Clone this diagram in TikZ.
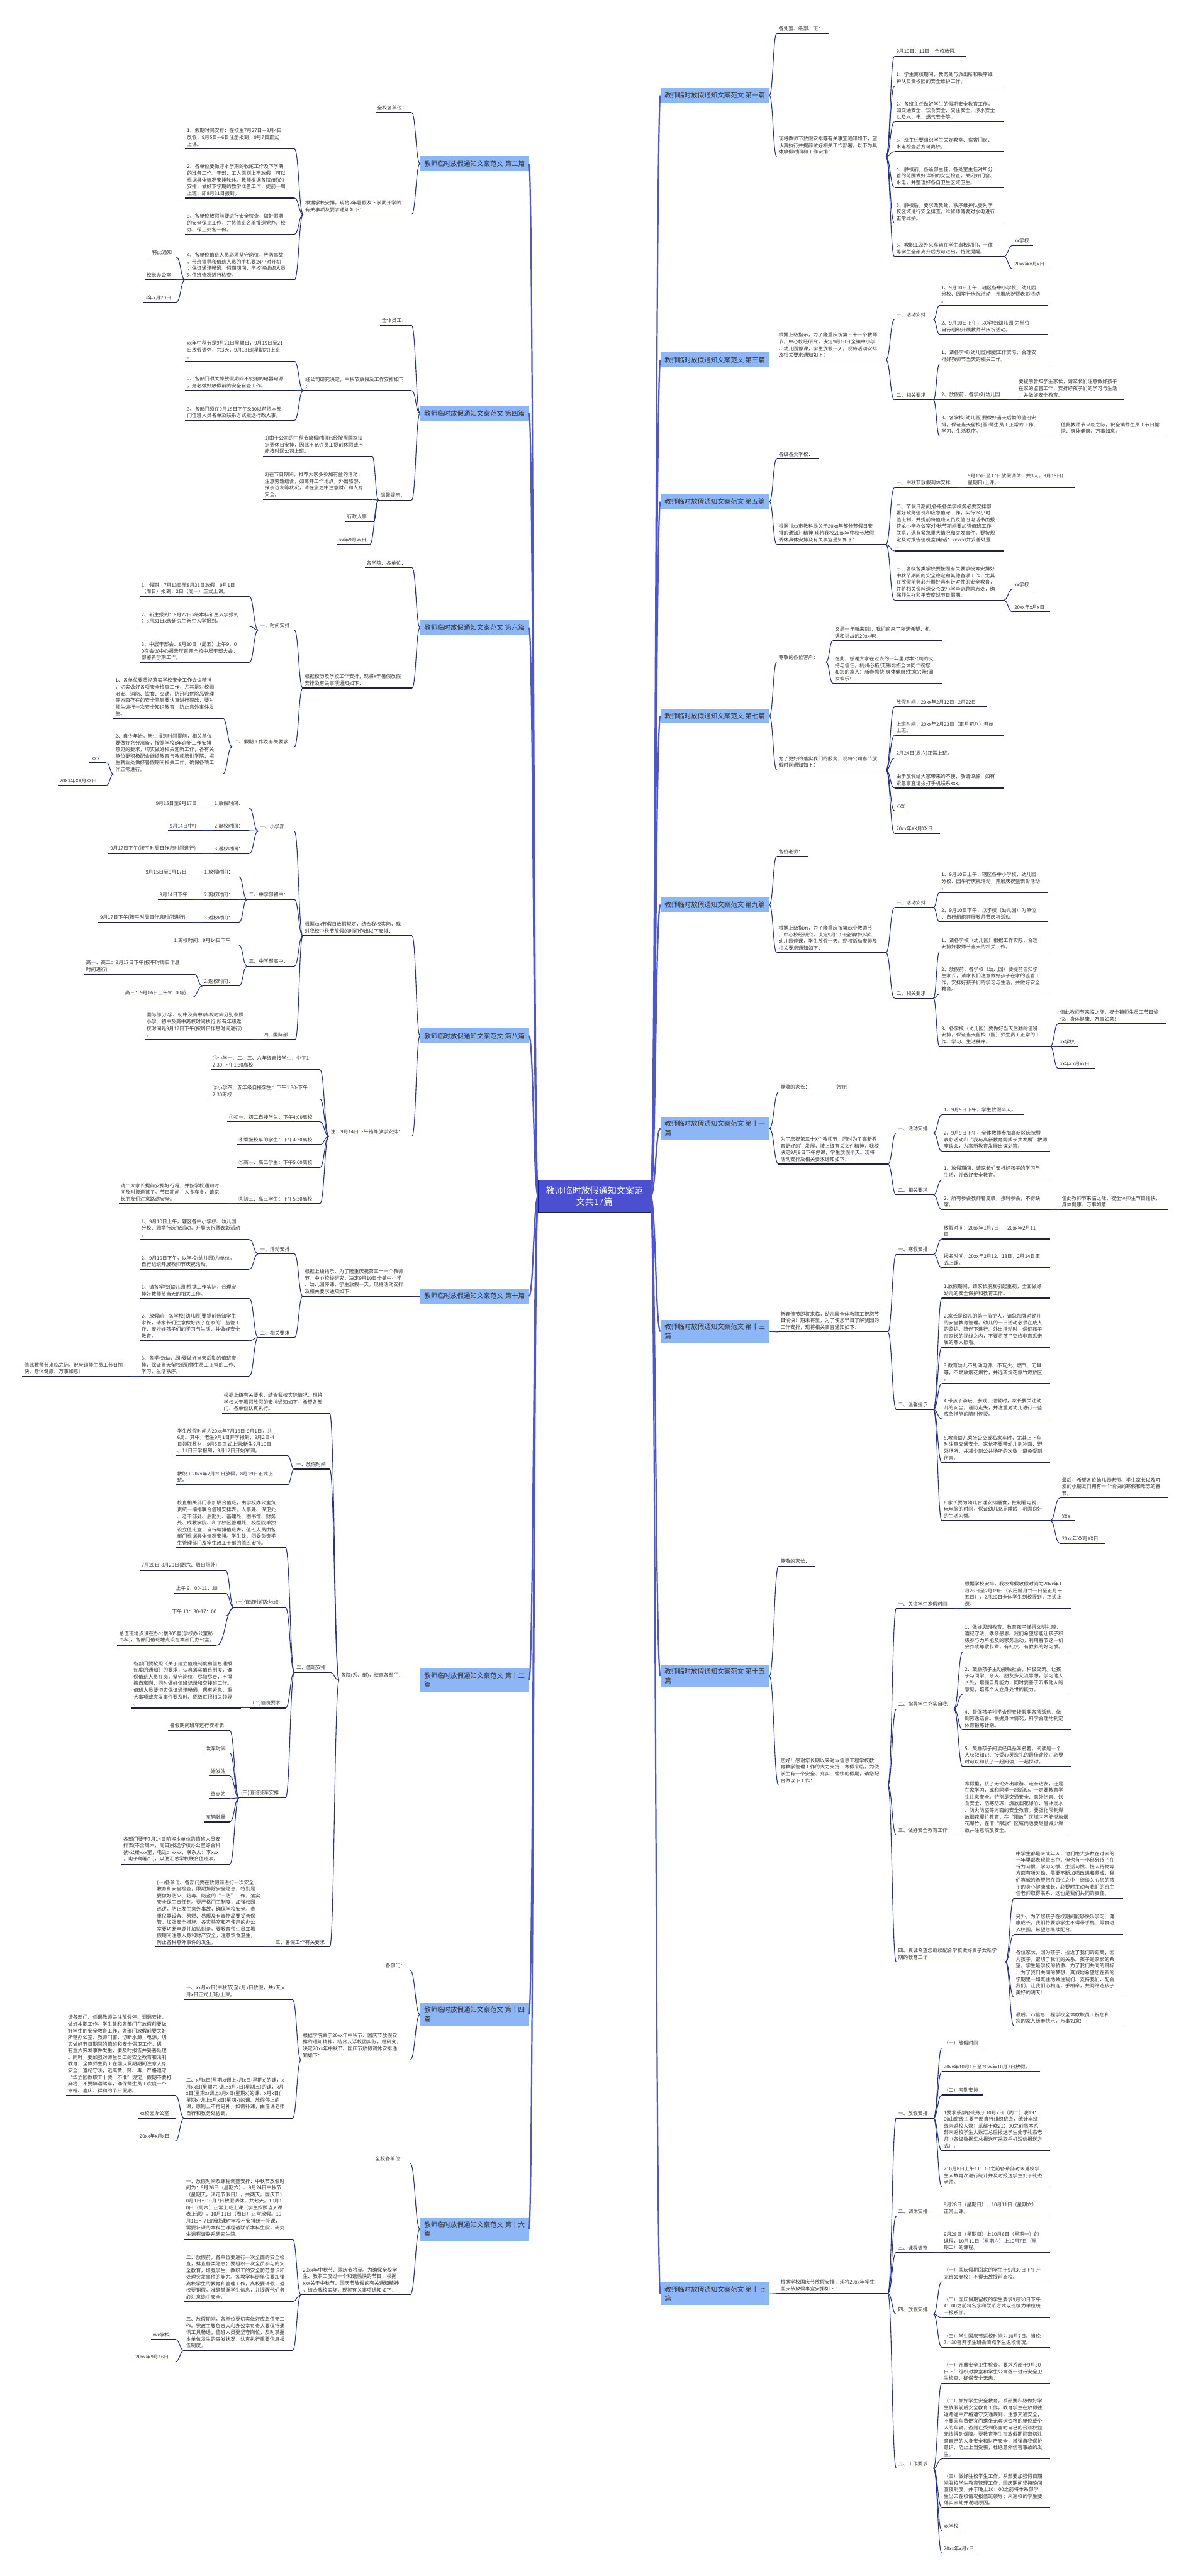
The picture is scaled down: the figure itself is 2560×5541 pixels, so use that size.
\documentclass[tikz,border=0pt]{standalone}
\usepackage{fontspec}
\setmainfont{Noto Sans CJK SC}
\usetikzlibrary{calc}
\definecolor{txt}{HTML}{333333}
\definecolor{ulc}{HTML}{20223C}
\definecolor{cnc}{HTML}{26318F}
\definecolor{brf}{HTML}{8DB6F7}
\definecolor{trc}{HTML}{4B55D6}
\definecolor{rootf}{HTML}{4B50D2}
\tikzset{
  lf/.style={inner xsep=4pt, inner ysep=5pt, align=left, font=\fontsize{10.6}{14.3}\selectfont, text=txt},
  ul/.style={draw=ulc, line width=1.6pt},
  cn/.style={draw=cnc, line width=1.5pt},
  br/.style={fill=brf, text=txt, font=\fontsize{14.2}{19.6}\selectfont, align=left, inner xsep=4pt, inner ysep=3pt, minimum width=234pt, minimum height=32pt},
  brr/.style={br, minimum height=49pt},
  trunk/.style={draw=trc, line width=3pt},
  rootn/.style={fill=rootf, draw=ulc, line width=1pt, text=white, font=\fontsize{19}{25}\selectfont, align=center, inner sep=6pt, minimum width=242pt, minimum height=69pt}
}
\newcommand\lf[5]{%
  \draw[ul] (#2,#3) coordinate (#1-l) -- ++(#4,0) coordinate (#1-r);
  \node[lf,anchor=south west] (#1) at (#2,#3) {#5};}
\newcommand\cn[2]{\draw[cn] let \p1=(#1), \p2=(#2), \n1={0.5*\x1+0.5*\x2} in (\p1) .. controls (\n1,\y1) and (\n1,\y2) .. (\p2);}
\newcommand\tk[2]{\draw[trunk] let \p1=(#1), \p2=(#2), \n1={0.5*\x1+0.5*\x2} in (\p1) .. controls (\n1,\y1) and (\n1,\y2) .. (\p2);}
\newcommand\tor[2]{\foreach \kid in {#2}{\cn{#1-r}{\kid-l}}}
\newcommand\tol[2]{\foreach \kid in {#2}{\cn{#1-l}{\kid-r}}}
\newcommand\bor[2]{\foreach \kid in {#2}{\cn{#1.east}{\kid-l}}}
\newcommand\bol[2]{\foreach \kid in {#2}{\cn{#1.west}{\kid-r}}}
\begin{document}
\begin{tikzpicture}[x=1pt,y=-1pt]
\fill[white] (0,0) rectangle (2560,5541);
\useasboundingbox (0,0) rectangle (2560,5541);

% ================= RIGHT BRANCH NODES =================
\node[br,anchor=west] (b1) at (1420,205) {教师临时放假通知文案范文 第一篇};
\node[br,anchor=west] (b3) at (1420,774) {教师临时放假通知文案范文 第三篇};
\node[br,anchor=west] (b5) at (1420,1079) {教师临时放假通知文案范文 第五篇};
\node[br,anchor=west] (b7) at (1420,1540) {教师临时放假通知文案范文 第七篇};
\node[br,anchor=west] (b9) at (1420,1946) {教师临时放假通知文案范文 第九篇};
\node[brr,anchor=west] (b11) at (1420,2427) {教师临时放假通知文案范文 第十一\\篇};
\node[brr,anchor=west] (b13) at (1420,2864) {教师临时放假通知文案范文 第十三\\篇};
\node[brr,anchor=west] (b15) at (1420,3605) {教师临时放假通知文案范文 第十五\\篇};
\node[brr,anchor=west] (b17) at (1420,4934) {教师临时放假通知文案范文 第十七\\篇};
% ================= LEFT BRANCH NODES =================
\node[br,anchor=west] (b2) at (903,352) {教师临时放假通知文案范文 第二篇};
\node[br,anchor=west] (b4) at (903,889) {教师临时放假通知文案范文 第四篇};
\node[br,anchor=west] (b6) at (903,1350) {教师临时放假通知文案范文 第六篇};
\node[br,anchor=west] (b8) at (903,2228) {教师临时放假通知文案范文 第八篇};
\node[br,anchor=west] (b10) at (903,2788) {教师临时放假通知文案范文 第十篇};
\node[brr,anchor=west] (b12) at (903,3614) {教师临时放假通知文案范文 第十二\\篇};
\node[brr,anchor=west] (b14) at (903,4333) {教师临时放假通知文案范文 第十四\\篇};
\node[brr,anchor=west] (b16) at (903,4795) {教师临时放假通知文案范文 第十六\\篇};

% ================= ROOT =================
\coordinate (rootE) at (1399,2573);
\coordinate (rootW) at (1157,2573);
\foreach \b in {b1,b3,b5,b7,b9,b11,b13,b15,b17}{\tk{rootE}{\b.west}}
\foreach \b in {b2,b4,b6,b8,b10,b12,b14,b16}{\tk{rootW}{\b.east}}
\node[rootn] (root) at (1278,2573) {教师临时放假通知文案范\\文共17篇};

% ================= BRANCH 1 =================
\lf{a1}{1670}{72}{112}{各处室、级部、班：}
\lf{a2}{1670}{337}{235}{现将教师节放假安排等有关事宜通知如下，望\\认真执行并提前做好相关工作部署。以下为具\\体放假时间和工作安排：}
\lf{a21}{1923}{121}{155}{9月10日、11日，全校放假。}
\lf{a22}{1923}{185}{235}{1、学生离校期间，教务处与派出所和秩序维\\护队负责校园的安全维护工作。}
\lf{a23}{1923}{262}{235}{2、各班主任做好学生的假期安全教育工作，\\如交通安全、饮食安全、交往安全、涉水安全\\以及水、电、燃气安全等。}
\lf{a24}{1923}{326}{235}{3、班主任要组织学生关好教室、宿舍门窗、\\水电检查后方可离校。}
\lf{a25}{1923}{403}{235}{4、静校前，各级部主任、各处室主任对所分\\管的范围做好详细的安全检查，关闭好门窗、\\水电，并整理好各自卫生区域卫生。}
\lf{a26}{1923}{480}{235}{5、静校后，要求政教处、秩序维护队要对学\\校区域进行安全排查，维修师傅要对水电进行\\正常维护。}
\lf{a27}{1923}{552}{235}{6、教职工及外来车辆在学生离校期间，一律\\等学生全部离开后方可进出，特此提醒。}
\lf{a271}{2177}{528}{44}{xx学校}
\lf{a272}{2177}{578}{81}{20xx年x月x日}
\bor{b1}{a1,a2}
\tor{a2}{a21,a22,a23,a24,a25,a26,a27}
\tor{a27}{a271,a272}

% ================= BRANCH 3 =================
\lf{c1}{1670}{774}{235}{根据上级指示，为了隆重庆祝第三十一个教师\\节，中心校经研究，决定9月10日全镇中小学\\、幼儿园停课，学生放假一天。现将活动安排\\及相关要求通知如下：}
\lf{c11}{1923}{687}{84}{一、活动安排}
\lf{c111}{2020}{657}{234}{1、9月10日上午，辖区各中小学校、幼儿园\\分校、园举行庆祝活动，开展庆祝暨表彰活动\\。}
\lf{c112}{2020}{719}{234}{2、9月10日下午，以学校(幼儿园)为单位，\\自行组织开展教师节庆祝活动。}
\lf{c12}{1923}{860}{84}{二、相关要求}
\lf{c121}{2020}{783}{234}{1、请各学校(幼儿园)根据工作实际，合理安\\排好教师节当天的相关工作。}
\lf{c122}{2020}{860}{146}{2、放假前，各学校(幼儿园}
\lf{c1221}{2186}{860}{231}{要提前告知学生家长，请家长们注意做好孩子\\在家的监管工作，安排好孩子们的学习与生活\\，并做好安全教育。}
\lf{c123}{2020}{938}{234}{3、各学校(幼儿园)要做好当天后勤的值班安\\排，保证当天留校(园)师生员工正常的工作、\\学习、生活秩序。}
\lf{c1231}{2277}{938}{231}{值此教师节来临之际，祝全镇师生员工节日愉\\快、身体健康、万事如意。}
\bor{b3}{c1}
\tor{c1}{c11,c12}
\tor{c11}{c111,c112}
\tor{c12}{c121,c122,c123}
\tor{c122}{c1221}
\tor{c123}{c1231}

% ================= BRANCH 5 =================
\lf{e1}{1670}{987}{90}{各级各类学校：}
\lf{e2}{1670}{1171}{235}{根据《xx市教科局关于20xx年部分节假日安\\排的通知》精神,现将我校20xx年中秋节放假\\调休具体安排及有关事宜通知如下：}
\lf{e21}{1923}{1049}{135}{一、中秋节放假调休安排}
\lf{e211}{2077}{1049}{233}{9月15日至17日放假调休，共3天。9月18日(\\星期日)上课。}
\lf{e22}{1923}{1185}{235}{二、节假日期间,各级各类学校务必要安排部\\署好政务值班和应急值守工作，实行24小时\\值班制，并提前将值班人员及值班电话书面报\\苍龙小学办公室;中秋节期间要加强值班工作\\联系，遇有紧急重大情况和突发事件，要按规\\定及时报告值班室(电话：xxxxx)并妥善处置\\。}
\lf{e23}{1923}{1291}{235}{三、各级各类学校要按照有关要求统筹安排好\\中秋节期间的安全稳定和其他各项工作，尤其\\在放假前务必开展好具有针对性的安全教育，\\并将相关资料送交苍龙小学李远鹏同志处，确\\保师生祥和平安度过节日假期。}
\lf{e231}{2177}{1267}{44}{xx学校}
\lf{e232}{2177}{1316}{81}{20xx年x月x日}
\bor{b5}{e1,e2}
\tor{e2}{e21,e22,e23}
\tor{e21}{e211}
\tor{e23}{e231,e232}

% ================= BRANCH 7 =================
\lf{g1}{1670}{1424}{106}{尊敬的各位客户：}
\lf{g11}{1791}{1378}{234}{又是一年新来到!，我们迎来了充满希望、机\\遇和挑战的20xx年!}
\lf{g12}{1791}{1470}{234}{在此，感谢大家在过去的一年里对本公司的支\\持与信任。杭州必拓/无锡北拓全体同仁祝您\\和您的家人：新春愉快!身体健康!生意兴隆!阖\\家欢乐!}
\lf{g2}{1670}{1656}{235}{为了更好的落实我们的服务，现将公司春节放\\假时间通知如下：}
\lf{g21}{1923}{1520}{198}{放假时间：20xx年2月12日-- 2月22日}
\lf{g22}{1923}{1582}{235}{上班时间：20xx年2月23日（正月初八）开始\\上班。}
\lf{g23}{1923}{1631}{139}{2月24日(周六)正常上班。}
\lf{g24}{1923}{1695}{235}{由于放假给大家带来的不便，敬请谅解，如有\\紧急事宜请拨打手机联系xxx。}
\lf{g25}{1923}{1744}{33}{XXX}
\lf{g26}{1923}{1793}{98}{20xx年XX月XX日}
\bor{b7}{g1,g2}
\tor{g1}{g11,g12}
\tor{g2}{g21,g22,g23,g24,g25,g26}

% ================= BRANCH 9 =================
\lf{i1}{1670}{1842}{68}{各位老师：}
\lf{i2}{1670}{2049}{235}{根据上级指示，为了隆重庆祝第xx个教师节\\，中心校经研究，决定9月10日全镇中小学、\\幼儿园停课，学生放假一天。现将活动安排及\\相关要求通知如下：}
\lf{i21}{1923}{1952}{84}{一、活动安排}
\lf{i211}{2020}{1920}{234}{1、9月10日上午，辖区各中小学校、幼儿园\\分校、园举行庆祝活动，开展庆祝暨表彰活动\\。}
\lf{i212}{2020}{1983}{234}{2、9月10日下午，以学校（幼儿园）为单位\\，自行组织开展教师节庆祝活动。}
\lf{i22}{1923}{2147}{84}{二、相关要求}
\lf{i221}{2020}{2047}{234}{1、请各学校（幼儿园）根据工作实际，合理\\安排好教师节当天的相关工作。}
\lf{i222}{2020}{2138}{234}{2、放假前，各学校（幼儿园）要提前告知学\\生家长，请家长们注意做好孩子在家的监管工\\作，安排好孩子们的学习与生活，并做好安全\\教育。}
\lf{i223}{2020}{2251}{238}{3、各学校（幼儿园）要做好当天后勤的值班\\安排，保证当天留校（园）师生员工正常的工\\作、学习、生活秩序。}
\lf{i2231}{2275}{2202}{233}{值此教师节来临之际，祝全镇师生员工节日愉\\快、身体健康、万事如意!}
\lf{i2232}{2275}{2251}{42}{xx学校}
\lf{i2233}{2275}{2298}{79}{xx年xx月xx日}
\bor{b9}{i1,i2}
\tor{i2}{i21,i22}
\tor{i21}{i211,i212}
\tor{i22}{i221,i222,i223}
\tor{i223}{i2231,i2232,i2233}

% ================= BRANCH 11 =================
\lf{k1}{1674}{2349}{80}{尊敬的家长：}
\lf{k11}{1794}{2349}{46}{您好!}
\lf{k2}{1674}{2504}{235}{为了庆祝第三十X个教师节，同时为了高新教\\育更好的'发展，按上级有关文件精神，我校\\决定9月9日下午停课，学生放假半天。现将\\活动安排及相关要求通知如下：}
\lf{k21}{1927}{2437}{80}{一、活动安排}
\lf{k211}{2025}{2398}{176}{1、9月9日下午，学生放假半天。}
\lf{k212}{2025}{2476}{233}{2、9月9日下午，全体教师参加高新区庆祝暨\\表彰活动和“我与高新教育同成长共发展”教师\\座谈会，为高新教育发展出谋划策。}
\lf{k22}{1927}{2570}{80}{二、相关要求}
\lf{k221}{2025}{2538}{233}{1、放假期间，请家长们安排好孩子的学习与\\生活，并做好安全教育。}
\lf{k222}{2025}{2602}{233}{2、所有参会教师着夏装，按时参会，不得缺\\席。}
\lf{k2221}{2279}{2602}{233}{值此教师节来临之际，祝全体师生节日愉快、\\身体健康、万事如意!}
\bor{b11}{k1,k2}
\tor{k1}{k11}
\tor{k2}{k21,k22}
\tor{k21}{k211,k212}
\tor{k22}{k221,k222}
\tor{k222}{k2221}

% ================= BRANCH 13 =================
\lf{m1}{1674}{2865}{235}{新春佳节即将来临，幼儿园全体教职工祝您节\\日愉快！期末将至，为了使您早日了解我园的\\工作安排，现将相关事宜通知如下：}
\lf{m11}{1927}{2698}{80}{一、寒假安排}
\lf{m111}{2025}{2665}{233}{放假时间：20xx年1月7日——20xx年2月11\\日}
\lf{m112}{2025}{2727}{233}{报名时间：20xx年2月12、13日，2月14日正\\式上课。}
\lf{m12}{1927}{3032}{80}{二、温馨提示}
\lf{m121}{2025}{2792}{233}{1.放假期间，请家长朋友引起重视，全面做好\\幼儿的安全保护和教育工作。}
\lf{m122}{2025}{2898}{233}{2.家长是幼儿的第一监护人，请您加强对幼儿\\的安全教育管理。幼儿的一日活动必须在成人\\的监护、陪伴下进行。外出活动时，保证孩子\\在家长的视线之内，不要将孩子交给非直系亲\\属的熟人照看。}
\lf{m123}{2025}{2976}{233}{3.教育幼儿不乱动电源、不玩火、燃气、刀具\\等，不燃放烟花爆竹，并远离烟花爆竹燃放区\\。}
\lf{m124}{2025}{3052}{233}{4.带孩子游玩、参观、进餐时，家长要关注幼\\儿的安全，谨防走失，并注重对幼儿进行一些\\应急措施的随时传授。}
\lf{m125}{2025}{3146}{233}{5.教育幼儿乘坐公交或私家车时，尤其上下车\\时注意交通安全。家长不要带幼儿到冰面、野\\外场所，并减少到公共场所的次数，避免受到\\伤害。}
\lf{m126}{2025}{3271}{233}{6.家长要为幼儿合理安排膳食，控制看电视、\\玩电脑的时间，保证幼儿充足睡眠，巩固良好\\的生活习惯。}
\lf{m1261}{2279}{3222}{233}{最后，希望各位幼儿园老师、学生家长以及可\\爱的小朋友们拥有一个愉快的寒假和难忘的春\\节。}
\lf{m1262}{2279}{3271}{32}{XXX}
\lf{m1263}{2279}{3320}{97}{20xx年XX月XX日}
\bor{b13}{m1}
\tor{m1}{m11,m12}
\tor{m11}{m111,m112}
\tor{m12}{m121,m122,m123,m124,m125,m126}
\tor{m126}{m1261,m1262,m1263}

% ================= BRANCH 15 =================
\lf{o1}{1674}{3369}{79}{尊敬的家长：}
\lf{o2}{1674}{3840}{235}{您好！感谢您长期以来对xx信息工程学校教\\育教学管理工作的大力支持！寒假来临，为使\\学生有一个安全、充实、愉快的假期，请您配\\合做以下工作：}
\lf{o21}{1927}{3460}{124}{一、关注学生寒假时间}
\lf{o211}{2070}{3460}{234}{根据学校安排，我校寒假放假时间为20xx年1\\月26日至2月19日（农历腊月廿一日至正月十\\五日），2月20日全体学生到校报到，正式上\\课。}
\lf{o22}{1927}{3676}{124}{二、指导学生充实自我}
\lf{o221}{2070}{3553}{234}{1．做好思想教育。教育孩子懂得文明礼貌，\\遵纪守法、孝亲感恩。我们希望您能让孩子积\\极参与力所能及的家务活动，利用春节这一机\\会养成尊敬长辈，有礼仪、有教养的好习惯。}
\lf{o222}{2070}{3644}{234}{2．鼓励孩子主动接触社会，积极交流。让孩\\子与同学、亲人、朋友多交流思想，学习他人\\长处，增强自身能力，同时要善于听取他人的\\意见，培养个人立身处世的能力。}
\lf{o223}{2070}{3721}{234}{4．督促孩子科学合理安排假期各项活动，做\\到劳逸结合。根据身体情况，科学合理地制定\\体育锻炼计划。}
\lf{o224}{2070}{3800}{234}{5．鼓励孩子阅读经典品味名著。阅读是一个\\人获取知识、接受心灵洗礼的最佳途径。必要\\时可以和孩子一起阅读，一起探讨。}
\lf{o23}{1927}{3947}{124}{三、做好安全教育工作}
\lf{o231}{2070}{3947}{234}{寒假里，孩子无论外出旅游、走亲访友，还是\\在家学习，或和同学一起活动，一定要教育学\\生注意安全。特别是交通安全、意外伤害、饮\\食安全、防寒防冻、燃放烟花爆竹、滑冰溺水\\、防火防盗等方面的安全教育。要强化限制燃\\放烟花爆竹教育，在“限放”区域内不能燃放烟\\花爆竹，在非“限放”区域内也要尽量减少燃\\放并注意燃放安全。}
\lf{o24}{1927}{4220}{235}{四、真诚希望您继续配合学校做好贵子女新学\\期的教育工作}
\lf{o241}{2180}{4083}{235}{中学生都是未成年人，他们绝大多数在过去的\\一年里都表现很出色，但也有一小部分孩子在\\行为习惯、学习习惯、生活习惯、接人待物等\\方面有所欠缺，需要不断加强改进和养成，我\\们真诚的希望您在百忙之中，继续关心您的孩\\子的身心健康成长，必要时主动与我们的班主\\任老师取得联系，这也是我们共同的责任。}
\lf{o242}{2180}{4161}{235}{另外，为了您孩子在校期间能够快乐学习、健\\康成长，我们特要求学生不得带手机、零食进\\入校园，希望您继续配合。}
\lf{o243}{2180}{4296}{235}{各位家长，因为孩子，拉近了我们的距离；因\\为孩子，密切了我们的关系。孩子是家长的希\\望，学生是学校的骄傲。为了我们共同的目标\\，为了我们共同的梦想，真诚地希望您在新的\\学期里一如既往地关注我们、支持我们、配合\\我们，让我们心相连，手相牵，共同缔造孩子\\美好的明天!}
\lf{o244}{2180}{4358}{235}{最后，xx信息工程学校全体教职员工祝您和\\您的家人新春快乐，万事如意!}
\bor{b15}{o1,o2}
\tor{o2}{o21,o22,o23,o24}
\tor{o21}{o211}
\tor{o22}{o221,o222,o223,o224}
\tor{o23}{o231}
\tor{o24}{o241,o242,o243,o244}

% ================= BRANCH 17 =================
\lf{q1}{1674}{4933}{235}{根据学校国庆节放假安排，现将20xx年学生\\国庆节放假事宜安排如下：}
\lf{q11}{1927}{4556}{80}{一、放假安排}
\lf{q111}{2025}{4405}{89}{（一）放假时间}
\lf{q112}{2025}{4456}{211}{20xx年10月1日至20xx年10月7日放假。}
\lf{q113}{2025}{4506}{89}{（二）考勤安排}
\lf{q114}{2025}{4626}{233}{1要求系部各班级于10月7日（周二）晚19：\\00由班级主要干部自行组织班会，统计本班\\级未返校人数；系部于晚21：00之前将本系\\部未返校学生人数汇总后报送学生处于礼杰老\\师（各级数据汇总报送可采取手机短信报送方\\式）。}
\lf{q115}{2025}{4704}{233}{210月8日上午11：00之前各系部对未返校学\\生人数再次进行统计并及时报送学生处于礼杰\\老师。}
\lf{q12}{1927}{4767}{80}{二、调休安排}
\lf{q121}{2025}{4767}{233}{9月28日（星期日）、10月11日（星期六）\\正常上课。}
\lf{q13}{1927}{4845}{80}{三、课程调整}
\lf{q131}{2025}{4845}{233}{9月28日（星期日）上10月6日（星期一）的\\课程，10月11日（星期六）上10月7日（星\\期二）的课程。}
\lf{q14}{1927}{4978}{80}{四、放假安排}
\lf{q141}{2025}{4908}{233}{（一）国庆假期回家的学生于9月30日下午开\\完班会离校；不得无故提前离校。}
\lf{q142}{2025}{4985}{233}{（二）国庆假期留校的学生要求9月30日下午\\4：00之前将名字和联系方式以班级为单位统\\一报系部。}
\lf{q143}{2025}{5049}{233}{（三）学生国庆节返校时间为10月7日。当晚\\7：30召开学生班会清点学生返校情况。}
\lf{q15}{1927}{5309}{80}{五、工作要求}
\lf{q151}{2025}{5126}{233}{（一）开展安全卫生检查。要求系部于9月30\\日下午组织对教室和学生公寓逐一进行安全卫\\生检查，确保安全无患。}
\lf{q152}{2025}{5289}{233}{（二）抓好学生安全教育。系部要积极做好学\\生放假前后安全教育工作，教育学生在放假往\\返路途中严格遵守交通规则，注意交通安全，\\不要因车费便宜而乘坐无客运资格的单位或个\\人的车辆，否则在受到伤害时自己的合法权益\\无法得到保障。要教育学生在放假期间密切注\\意自己的人身安全和财产安全，增强自我保护\\意识，防止上当受骗，杜绝意外伤害事故的发\\生。}
\lf{q153}{2025}{5394}{233}{（三）做好驻校学生工作。系部要加强假日期\\间驻校学生教育管理工作。国庆期间坚持晚间\\查寝制度，并于晚上10：00之前将本系部学\\生当天在校情况报值班领导；未返校的学生要\\落实去处并说明原因。}
\lf{q154}{2025}{5444}{44}{xx学校}
\lf{q155}{2025}{5492}{81}{20xx年x月x日}
\bor{b17}{q1}
\tor{q1}{q11,q12,q13,q14,q15}
\tor{q11}{q111,q112,q113,q114,q115}
\tor{q12}{q121}
\tor{q13}{q131}
\tor{q14}{q141,q142,q143}
\tor{q15}{q151,q152,q153,q154,q155}

% ================= BRANCH 2 =================
\lf{d1}{807}{242}{78}{全校各单位：}
\lf{d2}{652}{461}{233}{根据学校安排，现将x年暑假及下学期开学的\\有关事项及要求通知如下：}
\lf{d21}{398}{320}{235}{1、假期时间安排：在校生7月27日—9月4日\\放假，9月5日—6日注册报到，9月7日正式\\上课。}
\lf{d22}{398}{426}{235}{2、各单位要做好本学期的收尾工作及下学期\\的准备工作。干部、工人原则上不放假，可以\\根据具体情况安排轮休。教师根据各院(部)的\\安排，做好下学期的教学准备工作，提前一周\\上班，即8月31日报到。}
\lf{d23}{398}{504}{235}{3、各单位放假前要进行安全检查，做好假期\\的安全保卫工作，并将值班名单报送党办、校\\办、保卫处各一份。}
\lf{d24}{398}{602}{235}{4、各单位值班人员必须坚守岗位，严防事故\\。带班领导和值班人员的手机要24小时开机\\，保证通讯畅通。假期期间，学校将组织人员\\对值班情况进行检查。}
\lf{d241}{323}{553}{56}{特此通知}
\lf{d242}{311}{602}{68}{校长办公室}
\lf{d243}{309}{650}{70}{x年7月20日}
\bol{b2}{d1,d2}
\tol{d2}{d21,d22,d23,d24}
\tol{d24}{d241,d242,d243}

% ================= BRANCH 4 =================
\lf{f1}{817}{700}{68}{全体员工：}
\lf{f2}{652}{840}{233}{经公司研究决定，中秋节放假及工作安排如下\\：}
\lf{f21}{398}{777}{235}{xx年中秋节是9月21日星期日，9月19日至21\\日放假调休，共3天，9月18日(星期六)上班\\。}
\lf{f22}{398}{840}{235}{2、各部门须关掉放假期间不使用的电器电源\\，务必做好放假前的安全自查工作。}
\lf{f23}{398}{904}{235}{3、各部门须在9月18日下午5:30以前将本部\\门值班人员名单及联系方式报送行政人事。}
\lf{f3}{814}{1076}{71}{温馨提示：}
\lf{f31}{565}{981}{235}{1)由于公司的中秋节放假时间已经按照国家法\\定调休日安排，因此不允许员工提前休假或不\\能按时回公司上班。}
\lf{f32}{565}{1074}{235}{2)在节日期间，推荐大家多参加有益的活动，\\注意劳逸结合，如离开工作地点，外出旅游、\\探亲访友等状况，请在旅途中注意财产和人身\\安全。}
\lf{f33}{742}{1122}{61}{行政人事}
\lf{f34}{725}{1171}{70}{xx年9月xx日}
\bol{b4}{f1,f2,f3}
\tol{f2}{f21,f22,f23}
\tol{f3}{f31,f32,f33,f34}

% ================= BRANCH 6 =================
\lf{h1}{784}{1221}{102}{各学院、各单位：}
\lf{h2}{651}{1480}{235}{根据校历及学校工作安排，现将x年暑假放假\\安排及有关事项通知如下：}
\lf{h21}{555}{1355}{78}{一、时间安排}
\lf{h211}{300}{1283}{236}{1、假期：7月13日至8月31日放假，9月1日\\（周日）报到，2日（周一）正式上课。}
\lf{h212}{300}{1347}{236}{2、新生报到：8月22日x级本科新生入学报到\\；8月31日x级研究生新生入学报到。}
\lf{h213}{300}{1425}{236}{3、中层干部会：8月30日（周五）上午9：0\\0在会议中心报告厅召开全校中层干部大会，\\部署新学期工作。}
\lf{h22}{499}{1606}{134}{二、假期工作及有关要求}
\lf{h221}{244}{1545}{235}{1、各单位要贯彻落实学校安全工作会议精神\\，切实做好各项安全检查工作，尤其是对校园\\治安、消防、饮食、交通、防汛和危险品管理\\等方面存在的安全隐患要认真进行整改；要对\\师生进行一次安全知识教育，防止意外事件发\\生。}
\lf{h222}{244}{1665}{235}{2、自今年始，新生报到时间提前，相关单位\\要做好充分准备，按照学校x年迎新工作安排\\意见的要求，切实做好相关迎新工作；各有关\\单位要积极配合继续教育与教师培训学院、招\\生就业处做好暑假期间相关工作，确保各项工\\作正常进行。}
\lf{h2221}{192}{1641}{37}{XXX}
\lf{h2222}{124}{1689}{105}{20XX年XX月XX日}
\bol{b6}{h1,h2}
\tol{h2}{h21,h22}
\tol{h21}{h211,h212,h213}
\tol{h22}{h221,h222}
\tol{h222}{h2221,h2222}

% ================= BRANCH 8 =================
\lf{j1}{651}{2013}{235}{根据xxx节假日放假规定，结合我校实际，现\\对我校中秋节放假的时间作出以下安排：}
\lf{j11}{555}{1788}{78}{一、小学部：}
\lf{j111}{457}{1738}{79}{1.放假时间：}
\lf{j1111}{331}{1738}{105}{9月15日至9月17日}
\lf{j112}{457}{1787}{79}{2.离校时间：}
\lf{j1121}{361}{1787}{75}{9月14日中午}
\lf{j113}{457}{1836}{79}{3.返校时间：}
\lf{j1131}{233}{1836}{203}{9月17日下午(按平时周日作息时间进行)}
\lf{j12}{531}{1935}{102}{二、中学部初中：}
\lf{j121}{435}{1886}{79}{1.放假时间：}
\lf{j1211}{309}{1886}{105}{9月15日至9月17日}
\lf{j122}{435}{1935}{79}{2.离校时间：}
\lf{j1221}{339}{1935}{75}{9月14日下午}
\lf{j123}{435}{1984}{79}{3.返校时间：}
\lf{j1231}{211}{1984}{203}{9月17日下午(按平时周日作息时间进行)}
\lf{j13}{531}{2078}{102}{三、中学部高中：}
\lf{j131}{370}{2033}{144}{1.离校时间：9月14日下午}
\lf{j132}{435}{2121}{79}{2.返校时间：}
\lf{j1321}{181}{2096}{237}{高一、高二：9月17日下午(按平时周日作息\\时间进行)}
\lf{j1322}{265}{2145}{149}{高三：9月16日上午9：00前}
\lf{j14}{562}{2236}{73}{四、国际部}
\lf{j141}{311}{2236}{233}{国际部(小学、初中及高中)离校时间分别参照\\小学、初中及高中离校时间执行;所有年级返\\校时间是9月17日下午(按周日作息时间进行)\\。}
\lf{j2}{707}{2444}{179}{注：9月14日下午错峰放学安排：}
\lf{j21}{453}{2301}{235}{①小学一、二、三、六年级自接学生：中午1\\2:30-下午1:30离校}
\lf{j22}{453}{2364}{235}{②小学四、五年级自接学生：下午1:30-下午\\2:30离校}
\lf{j23}{488}{2413}{200}{③初一、初二自接学生：下午4:00离校}
\lf{j24}{509}{2462}{179}{④乘坐校车的学生：下午4:30离校}
\lf{j25}{509}{2511}{179}{⑤高一、高二学生：下午5:00离校}
\lf{j26}{509}{2589}{179}{⑥初三、高三学生：下午5:30离校}
\lf{j261}{255}{2589}{235}{请广大家长提前安排好行程，并按学校通知时\\间及时接送孩子。节日期间，人多车多，请家\\长朋友们注意路途安全。}
\bol{b8}{j1,j2}
\tol{j1}{j11,j12,j13,j14}
\tol{j11}{j111,j112,j113}
\tol{j111}{j1111}
\tol{j112}{j1121}
\tol{j113}{j1131}
\tol{j12}{j121,j122,j123}
\tol{j121}{j1211}
\tol{j122}{j1221}
\tol{j123}{j1231}
\tol{j13}{j131,j132}
\tol{j132}{j1321,j1322}
\tol{j14}{j141}
\tol{j2}{j21,j22,j23,j24,j25,j26}
\tol{j26}{j261}

% ================= BRANCH 10 =================
\lf{l1}{651}{2788}{235}{根据上级指示，为了隆重庆祝第三十一个教师\\节，中心校经研究，决定9月10日全镇中小学\\、幼儿园停课，学生放假一天。现将活动安排\\及相关要求通知如下：}
\lf{l11}{555}{2697}{78}{一、活动安排}
\lf{l111}{300}{2666}{236}{1、9月10日上午，辖区各中小学校、幼儿园\\分校、园举行庆祝活动，开展庆祝暨表彰活动\\。}
\lf{l112}{300}{2730}{236}{2、9月10日下午，以学校(幼儿园)为单位，\\自行组织开展教师节庆祝活动。}
\lf{l12}{555}{2877}{78}{二、相关要求}
\lf{l121}{300}{2793}{236}{1、请各学校(幼儿园)根据工作实际，合理安\\排好教师节当天的相关工作。}
\lf{l122}{300}{2884}{236}{2、放假前，各学校(幼儿园)要提前告知学生\\家长，请家长们注意做好孩子在家的'监管工\\作，安排好孩子们的学习与生活，并做好安全\\教育。}
\lf{l123}{300}{2960}{236}{3、各学校(幼儿园)要做好当天后勤的值班安\\排，保证当天留校(园)师生员工正常的工作、\\学习、生活秩序。}
\lf{l1231}{48}{2960}{233}{值此教师节来临之际，祝全镇师生员工节日愉\\快、身体健康、万事如意!}
\bol{b10}{l1}
\tol{l1}{l11,l12}
\tol{l11}{l111,l112}
\tol{l12}{l121,l122,l123}
\tol{l123}{l1231}

% ================= BRANCH 12 =================
\lf{n1}{729}{3614}{172}{各院(系、部)，校直各部门：}
\lf{n11}{477}{3040}{232}{根据上级有关要求，结合我校实际情况，现将\\学校关于暑假放假的安排通知如下，希望各部\\门、各单位认真执行。}
\lf{n12}{633}{3160}{76}{一、放假时间}
\lf{n121}{377}{3131}{241}{学生放假时间为20xx年7月18日-9月1日，共\\6周。其中，老生9月1日开学报到，9月2日-4\\日领取教材，9月5日正式上课;新生9月10日\\、11日开学报到，9月12日开始军训。}
\lf{n122}{377}{3194}{241}{教职工20xx年7月20日放假，8月29日正式上\\班。}
\lf{n13}{633}{3597}{76}{二、值班安排}
\lf{n131}{377}{3329}{237}{校直相关部门参加联合值班，由学校办公室负\\责统一编排联合值班安排表。人事处、保卫处\\、老干部处、后勤处、基建处、图书馆、财务\\处、成教学院、和平校区管理处、校医院单独\\设立值班室，自行编排值班表，值班人员由各\\部门根据具体情况安排。学生处、团委负责学\\生管理部门及学生政工干部的值班安排。}
\lf{n132}{503}{3458}{111}{(一)值班时间及地点}
\lf{n1321}{300}{3378}{185}{7月20日-8月29日(周六、周日除外)}
\lf{n1322}{374}{3427}{111}{上午 9：00-11：30}
\lf{n1323}{366}{3476}{119}{下午 13：30-17：00}
\lf{n1324}{252}{3539}{214}{总值班地点设在办公楼305室(学校办公室秘\\书科)，各部门值班地点设在本部门办公室。}
\lf{n133}{539}{3674}{75}{(二)值班要求}
\lf{n1331}{283}{3674}{235}{各部门要按照《关于建立值班制度和信息通报\\制度的通知》的要求，认真落实值班制度，确\\保值班人员在岗，坚守岗位，尽职尽责，不得\\擅自离岗，同时做好值班记录和交接班工作。\\值班人员要切实保证通讯畅通，遇有紧急、重\\大事项或突发事件要及时、逐级汇报相关领导\\。}
\lf{n134}{514}{3867}{100}{(三)值班班车安排}
\lf{n1341}{361}{3722}{133}{暑假期间班车运行安排表}
\lf{n1342}{439}{3771}{55}{发车时间}
\lf{n1343}{449}{3820}{45}{始发站}
\lf{n1344}{449}{3869}{45}{终点站}
\lf{n1345}{439}{3919}{55}{车辆数量}
\lf{n1346}{261}{4010}{233}{各部门要于7月14日前将本单位的值班人员安\\排表(不含周六、周日)报送学校办公室综合科\\(办公楼xxx室，电话：xxxx，联系人：李xxx\\，电子邮箱：)，以便汇总学校联合值班表。}
\lf{n14}{588}{4188}{121}{三、暑假工作有关要求}
\lf{n141}{333}{4188}{235}{(一)各单位、各部门要在放假前进行一次安全\\教育和安全检查，限期排除安全隐患，特别是\\要做好防火、防毒、防盗的“三防”工作，落实\\安全保卫责任制。要严格门卫制度，加强校园\\巡逻，防止发生意外事故，确保学校安全。贵\\重仪器设备、易燃、易爆及有毒物品要妥善保\\管，加强安全措施。各实验室和不使用的办公\\室要切断电源并加贴封条。要教育师生员工暑\\假期间注意人身和财产安全，注意饮食卫生，\\防止各种意外事件的发生。}
\bol{b12}{n1}
\tol{n1}{n11,n12,n13,n14}
\tol{n12}{n121,n122}
\tol{n13}{n131,n132,n133,n134}
\tol{n132}{n1321,n1322,n1323,n1324}
\tol{n133}{n1331}
\tol{n134}{n1341,n1342,n1343,n1344,n1345,n1346}
\tol{n14}{n141}

% ================= BRANCH 14 =================
\lf{p1}{825}{4238}{57}{各部门：}
\lf{p2}{647}{4431}{235}{根据学院关于20xx年中秋节、国庆节放假安\\排的通知精神，结合云浮校园实际，经研究，\\决定20xx年中秋节、国庆节放假调休安排通\\知如下：}
\lf{p21}{396}{4301}{233}{一、xx月xx日(中秋节)至x月x日放假，共x天;x\\月x日正式上班/上课。}
\lf{p22}{396}{4556}{233}{二、x月x日(星期x)调上x月x日(星期x)的课，x\\月xx日(星期六)调上x月x日(星期五)的课，x月\\x日(星期x)调上x月x日(星期x)的课，x月x日(\\星期x)调上x月x日(星期x)的课。放假停上的\\课，原则上不再另补，如需补课，由任课老师\\自行和教务处协调。}
\lf{p221}{142}{4507}{235}{请各部门、任课教师关注放假停、调课安排，\\做好本职工作，学生处和各部门在放假前要做\\好学生的安全教育工作，各部门放假前要关好\\所辖办公室、教师门窗，切断水源，电源，切\\实做好节日期间的值班和安全保卫工作，遇\\有重大突发事件发生，要及时报告并妥善处理\\。同时，要加强对师生员工的安全教育和法制\\教育，全体师生员工在国庆假期期间注意人身\\安全，遵纪守法，远离黄、赌、毒，严格遵守\\“华立园教职工十要十不准”规定，假期不要打\\麻将，不要醉酒驾车，确保师生员工欢度一个\\幸福、喜庆、祥和的节日假期。}
\lf{p222}{296}{4556}{81}{xx校园办公室}
\lf{p223}{296}{4605}{81}{20xx年x月x日}
\bol{b14}{p1,p2}
\tol{p2}{p21,p22}
\tol{p22}{p221,p222,p223}

% ================= BRANCH 16 =================
\lf{r1}{803}{4653}{79}{全校各单位：}
\lf{r2}{647}{4936}{235}{20xx年中秋节、国庆节将至。为确保全校学\\生、教职工度过一个和谐愉快的节日，根据\\xxx关于中秋节、国庆节放假的有关通知精神\\，结合我校实际，现将有关事项通知如下：}
\lf{r21}{396}{4816}{233}{一、放假时间及课程调整安排：中秋节放假时\\间为：9月26日（星期六）、9月24日中秋节\\（星期天，法定节假日），共两天。国庆节1\\0月1日～10月7日放假调休，共七天。10月1\\0日（周六）正常上班上课（学生按照当天课\\表上课），10月11日（周日）正常放假。10\\月1日～7日所缺课时学校不安排统一补课，\\需要补课的本科生课程请联系本科生院，研究\\生课程请联系研究生院。}
\lf{r22}{396}{4951}{233}{二、放假前，各单位要进行一次全面的安全检\\查，排查各类隐患；要组织一次全员参与的安\\全教育，增强学生、教职工的安全防范意识和\\处理突发事件的能力。各教学科研单位要加强\\离校学生的教育和管理工作，离校要请假，返\\校要销假，准确掌握学生信息，并提醒他们务\\必注意途中安全。}
\lf{r23}{396}{5056}{233}{三、放假期间，各单位要切实做好应急值守工\\作。党政主要负责人和办公室负责人要保持通\\讯工具畅通；值班人员要坚守岗位，及时掌握\\本单位发生的突发状况，认真执行重要信息报\\告制度。}
\lf{r231}{324}{5032}{53}{xxx学校}
\lf{r232}{287}{5080}{90}{20xx年9月16日}
\bol{b16}{r1,r2}
\tol{r2}{r21,r22,r23}
\tol{r23}{r231,r232}

\end{tikzpicture}
\end{document}
